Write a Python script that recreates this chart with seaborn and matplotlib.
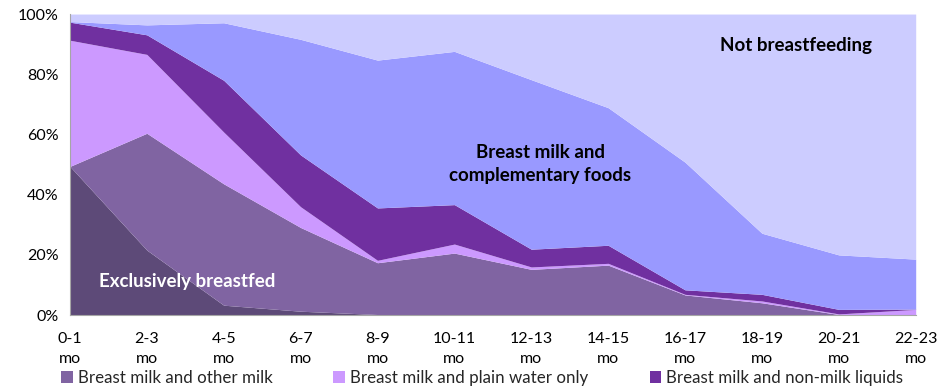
import matplotlib
matplotlib.use("Agg")
import matplotlib.pyplot as plt
from matplotlib.patches import Patch
import numpy as np
import seaborn as sns

ages = ["0-1", "2-3", "4-5", "6-7", "8-9", "10-11", "12-13", "14-15",
        "16-17", "18-19", "20-21", "22-23"]
tick_labels = [a + "\nmo" for a in ages]

# share of children (%) in each feeding group, bottom to top
exclusive = [49.4, 21.6, 3.3, 1.3, 0.2, 0, 0, 0, 0, 0, 0, 0]
other_milk = [0, 38.8, 40.3, 27.8, 17.2, 20.6, 15.2, 16.6, 6.7, 4.1, 0.2, 0]
plain_water = [41.9, 26.2, 17.2, 6.9, 0.8, 3.0, 0.8, 0.6, 0.2, 0.6, 0.2, 1.9]
non_milk = [6.0, 6.5, 17.2, 17.2, 17.4, 13.1, 5.9, 6.0, 1.5, 2.2, 1.5, 0.1]
complementary = [0.2, 3.3, 19.1, 38.4, 49.1, 50.9, 56.3, 45.7, 42.4, 20.3, 18.1, 16.6]
not_bf = [2.5, 3.6, 2.9, 8.4, 15.3, 12.4, 21.8, 31.1, 49.2, 72.8, 80.0, 81.4]

colors = ["#5d4a78", "#8064a2", "#cc99ff", "#7030a0", "#9999ff", "#ccccff"]
legend_names = ["Breast milk and other milk", "Breast milk and plain water only",
                "Breast milk and non-milk liquids"]

sns.set_theme(style="white")
plt.rcParams["font.family"] = ["Lato", "DejaVu Sans"]

fig = plt.figure(figsize=(9.45, 3.9), dpi=100)
ax = fig.add_axes([0.074, 0.192, 0.895, 0.772])

x = np.arange(len(ages))
ax.stackplot(x, exclusive, other_milk, plain_water, non_milk, complementary, not_bf,
             colors=colors, linewidth=0)

ax.set_xlim(0, len(ages) - 1)
ax.set_ylim(0, 100)
ax.set_yticks(range(0, 101, 20))
ax.set_yticklabels([f"{v}%" for v in range(0, 101, 20)], fontsize=11.5)
ax.set_xticks(x)
ax.set_xticklabels(tick_labels, fontsize=11.5, linespacing=1.5)

sns.despine(ax=ax, top=True, right=True)
for s in ["left", "bottom"]:
    ax.spines[s].set_color("#a6a6a6")
    ax.spines[s].set_linewidth(0.8)
ax.tick_params(axis="both", direction="out", length=5, width=0.8, color="#a6a6a6",
               labelcolor="black", pad=3)
ax.tick_params(axis="x", pad=7.5)

ax.text(1.53, 11.1, "Exclusively breastfed", color="white", fontsize=13.5,
        fontweight="bold", ha="center", va="center")
ax.text(6.12, 50.2, "Breast milk and\ncomplementary foods", color="black", fontsize=13.5,
        fontweight="bold", ha="center", va="center", linespacing=1.4)
ax.text(9.44, 89.7, "Not breastfeeding", color="black", fontsize=13.5,
        fontweight="bold", ha="center", va="center")

handles = [Patch(facecolor=c, edgecolor="none") for c in colors[1:4]]
fig.legend(handles, legend_names, loc="center left", bbox_to_anchor=(0.057, 0.03),
           ncol=3, frameon=False, handlelength=0.7, handleheight=0.7, handletextpad=0.3,
           columnspacing=3.6, borderaxespad=0, prop={"size": 12.2})

fig.savefig("out.png", dpi=100)
